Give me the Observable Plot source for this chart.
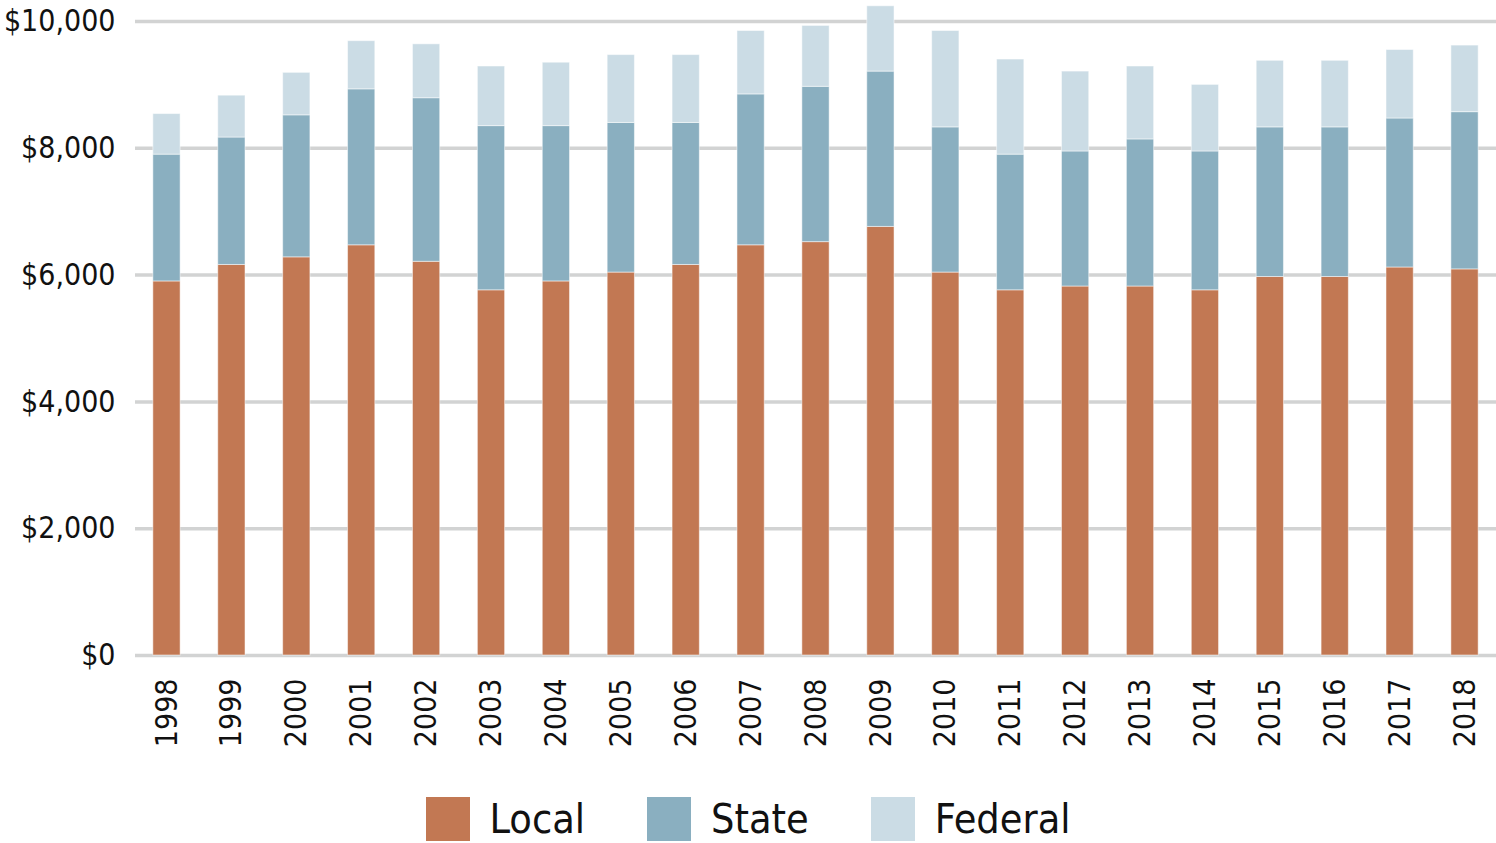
<!DOCTYPE html>
<html>
<head>
<meta charset="utf-8">
<script src="https://cdn.jsdelivr.net/npm/d3@7"></script>
<script src="https://cdn.jsdelivr.net/npm/@observablehq/plot@0.6"></script>
<style>
  body { margin: 0; background: #fff; font-family: "DejaVu Sans Condensed", "DejaVu Sans", sans-serif; font-stretch: condensed; }
  svg, svg text { font-stretch: condensed; }
  #legend { display: flex; justify-content: center; align-items: center; padding-top: 37px; height: 44px; }
  .item { display: flex; align-items: center; margin: 0 31px; }
  .sw { width: 44px; height: 44px; margin-right: 20px; }
  .lab { font-size: 41px; color: #111; line-height: 44px; }
</style>
</head>
<body>
<div id="chart"></div>
<div id="legend"></div>
<script>
const years = ["1998","1999","2000","2001","2002","2003","2004","2005","2006","2007","2008","2009","2010","2011","2012","2013","2014","2015","2016","2017","2018"];
const local   = [5900,6160,6280,6470,6210,5760,5900,6040,6160,6470,6520,6760,6040,5760,5820,5820,5760,5970,5970,6120,6090];
const state   = [2000,2010,2240,2460,2580,2590,2450,2360,2240,2380,2450,2450,2290,2140,2130,2320,2190,2360,2360,2350,2480];
const federal = [640,660,670,760,850,940,1000,1070,1070,1000,960,1030,1520,1500,1260,1150,1050,1050,1050,1080,1050];
const seriesNames = ["Local","State","Federal"];
const seriesColors = ["#c27853","#8aafc0","#cbdce5"];
const yTicks = [0,2000,4000,6000,8000,10000];

const seriesValues = [local, state, federal];
const rows = [];
years.forEach((yr, i) => {
  seriesNames.forEach((s, k) => rows.push({year: yr, source: s, value: seriesValues[k][i]}));
});

const fmt = d3.format(",");
const chart = Plot.plot({
  width: 1496,
  height: 760,
  marginLeft: 135,
  marginRight: 0,
  marginTop: 21,
  marginBottom: 105,
  style: {fontFamily: '"DejaVu Sans Condensed", "DejaVu Sans", sans-serif', fontStretch: "condensed", color: "#111", background: "#fff"},
  x: {type: "band", domain: years, paddingInner: 0.58, paddingOuter: 0.275, align: 0.5, round: false, label: null},
  y: {domain: [0, 10000], label: null},
  color: {domain: seriesNames, range: seriesColors},
  marks: [
    Plot.ruleY(yTicks, {stroke: "#d2d3d3", strokeWidth: 3.5}),
    Plot.barY(rows, {x: "year", y: "value", fill: "source", stroke: "#ffffff", strokeOpacity: 0.5, strokeWidth: 1}),
    Plot.axisY(yTicks, {tickSize: 0, tickPadding: 20, fontSize: 30, tickFormat: d => "$" + fmt(d), label: null}),
    Plot.axisX({tickRotate: -90, tickSize: 0, tickPadding: 23, fontSize: 30, label: null})
  ]
});
document.getElementById("chart").appendChild(chart);

const legend = document.getElementById("legend");
seriesNames.forEach((s, k) => {
  const it = document.createElement("div");
  it.className = "item";
  const sw = document.createElement("div");
  sw.className = "sw";
  sw.style.background = seriesColors[k];
  const lab = document.createElement("span");
  lab.className = "lab";
  lab.textContent = s;
  it.appendChild(sw);
  it.appendChild(lab);
  legend.appendChild(it);
});
</script>
</body>
</html>
